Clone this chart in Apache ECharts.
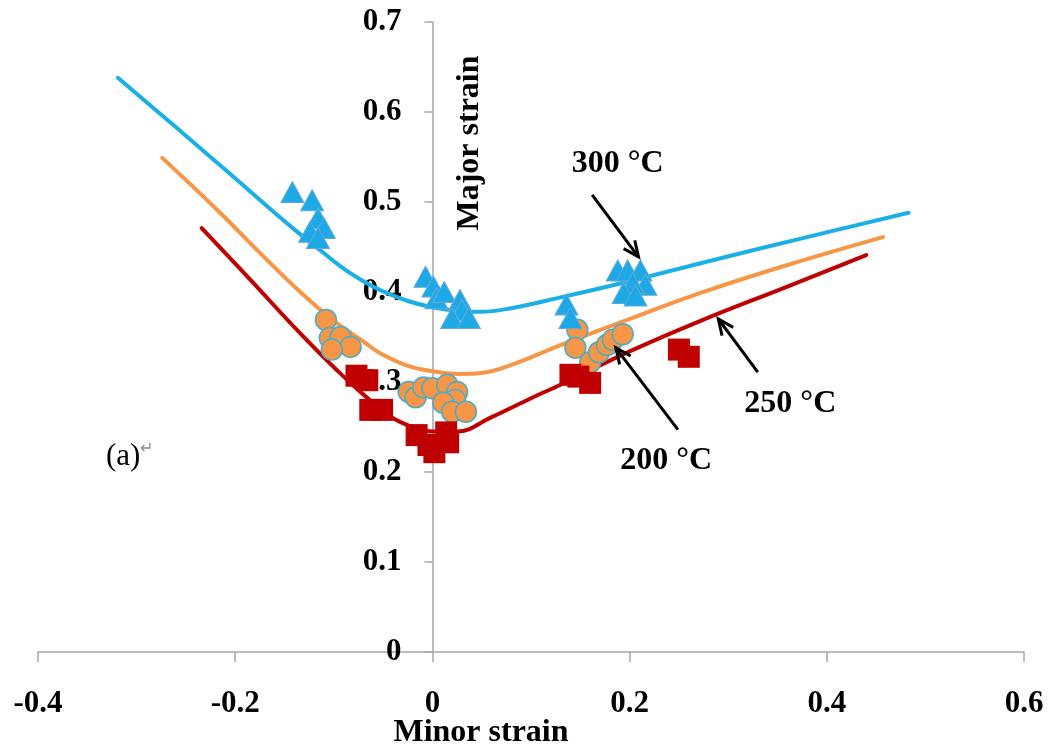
<!DOCTYPE html>
<html>
<head>
<meta charset="utf-8">
<script src="https://cdn.jsdelivr.net/npm/echarts@6/dist/echarts.min.js"></script>
<style>
  html, body { margin: 0; padding: 0; background: #fff; }
  #chart { width: 1057px; height: 751px; }
</style>
</head>
<body>
<div id="chart"></div>
<script>
// Forming limit curves (minor strain, major strain) at three temperatures
const curve300 = [[-0.319, 0.638], [-0.260, 0.583], [-0.205, 0.531], [-0.160, 0.488], [-0.134, 0.464],
                  [-0.110, 0.443], [-0.090, 0.426], [-0.070, 0.412], [-0.053, 0.402], [-0.025, 0.390],
                  [0.000, 0.383], [0.025, 0.379], [0.049, 0.378], [0.080, 0.382], [0.130, 0.394],
                  [0.200, 0.412], [0.272, 0.432], [0.380, 0.461], [0.483, 0.488]];
const curve200 = [[-0.274, 0.549], [-0.220, 0.493], [-0.168, 0.436], [-0.134, 0.400], [-0.100, 0.368],
                  [-0.070, 0.345], [-0.053, 0.332], [-0.025, 0.318], [0.000, 0.312], [0.025, 0.309],
                  [0.049, 0.310], [0.080, 0.319], [0.130, 0.341], [0.200, 0.370], [0.272, 0.399],
                  [0.360, 0.430], [0.457, 0.461]];
const curve250 = [[-0.234, 0.471], [-0.185, 0.414], [-0.134, 0.354], [-0.090, 0.306], [-0.043, 0.262],
                  [-0.020, 0.250], [0.000, 0.245], [0.025, 0.245], [0.060, 0.261], [0.100, 0.282],
                  [0.130, 0.297], [0.200, 0.334], [0.272, 0.368], [0.360, 0.406], [0.440, 0.441]];

// Measured limit strains
const points300 = [[-0.142, 0.511], [-0.122, 0.502], [-0.116, 0.482], [-0.110, 0.471], [-0.124, 0.467], [-0.116, 0.460],
                   [-0.007, 0.417], [0.001, 0.406], [0.004, 0.393], [0.012, 0.400], [0.028, 0.391], [0.030, 0.380],
                   [0.020, 0.371], [0.037, 0.371],
                   [0.136, 0.386], [0.140, 0.371],
                   [0.188, 0.424], [0.198, 0.424], [0.211, 0.424], [0.216, 0.408], [0.203, 0.410], [0.194, 0.399], [0.206, 0.396]];
const points200 = [[-0.108, 0.369], [-0.104, 0.349], [-0.093, 0.350], [-0.083, 0.339], [-0.102, 0.336],
                   [-0.024, 0.289], [-0.017, 0.283], [-0.009, 0.294], [0.000, 0.293], [0.015, 0.297], [0.025, 0.289],
                   [0.023, 0.280], [0.011, 0.277], [0.020, 0.267], [0.034, 0.267],
                   [0.147, 0.358], [0.145, 0.338], [0.160, 0.322], [0.169, 0.333], [0.177, 0.341], [0.183, 0.347], [0.193, 0.353]];
const points250 = [[-0.077, 0.307], [-0.066, 0.302], [-0.063, 0.269], [-0.051, 0.269],
                   [-0.016, 0.241], [-0.004, 0.230], [0.002, 0.222], [0.014, 0.244], [0.016, 0.233],
                   [0.140, 0.308], [0.148, 0.306], [0.160, 0.299],
                   [0.250, 0.336], [0.260, 0.328]];

// Axis ranges
const xRange = [-0.4, 0.6, 0.2];
const yRange = [0, 0.7, 0.1];

// Temperature annotations: text, text anchor, arrow tail, arrow tip (data units)
const noteTexts = ['300 °C', '250 °C', '200 °C'];
const noteAnchors = [[0.188, 0.542], [0.363, 0.276], [0.237, 0.212]];
const arrowTails = [[0.162, 0.508], [0.330, 0.311], [0.249, 0.247]];
const arrowTips = [[0.209, 0.439], [0.290, 0.370], [0.186, 0.338]];
const panelTag = '(a)';
const panelTagAnchor = [-0.331, 0.217];

const SERIF = '"Liberation Serif", "Times New Roman", serif';
const AXIS_GRAY = '#A6A6A6';

const GRID = { left: 38, right: 33, top: 22, bottom: 99 };
const plotWidth = 1057 - GRID.left - GRID.right;
// shift the vertical axis inward so it crosses the horizontal one at x = 0
const yAxisShift = -plotWidth * (0 - xRange[0]) / (xRange[1] - xRange[0]);

const chart = echarts.init(document.getElementById('chart'), null, { renderer: 'canvas' });

const fmt = v => String(Number(v.toFixed(1)));

const arrowData = arrowTails.map((t, i) => [t[0], t[1], arrowTips[i][0], arrowTips[i][1]]);

const curveSeries = (name, data, color) => ({
  name, type: 'line', data, smooth: 0.4, showSymbol: false, z: 2,
  lineStyle: { color, width: 4, cap: 'round', join: 'round' }
});

chart.setOption({
  backgroundColor: '#ffffff',
  animation: false,
  grid: Object.assign({ containLabel: false, outerBoundsMode: 'none' }, GRID),
  xAxis: {
    type: 'value',
    min: xRange[0], max: xRange[1], interval: xRange[2],
    axisLine: { show: true, onZero: false, lineStyle: { color: AXIS_GRAY, width: 1.5 } },
    axisTick: { show: true, length: 10, lineStyle: { color: AXIS_GRAY, width: 1.5 } },
    splitLine: { show: false },
    axisLabel: { formatter: fmt, margin: 36, color: '#000', fontFamily: SERIF, fontWeight: 'bold', fontSize: 31 }
  },
  yAxis: {
    type: 'value',
    position: 'left',
    offset: yAxisShift,
    min: yRange[0], max: yRange[1], interval: yRange[2],
    axisLine: { show: true, onZero: false, lineStyle: { color: AXIS_GRAY, width: 1.5 } },
    axisTick: { show: true, length: 8, lineStyle: { color: AXIS_GRAY, width: 1.5 } },
    splitLine: { show: false },
    axisLabel: { formatter: fmt, margin: 31, color: '#000', fontFamily: SERIF, fontWeight: 'bold', fontSize: 31 }
  },
  graphic: [
    { type: 'text', x: 470, y: 143, rotation: Math.PI / 2,
      style: { text: 'Major strain', font: 'bold 32px ' + SERIF, fill: '#000', align: 'center', verticalAlign: 'middle' } },
    { type: 'text', x: 481, y: 733,
      style: { text: 'Minor strain', font: 'bold 32px ' + SERIF, fill: '#000', align: 'center', verticalAlign: 'middle' } }
  ],
  series: [
    curveSeries('300 line', curve300, '#1AAFE6'),
    curveSeries('200 line', curve200, '#F79646'),
    curveSeries('250 line', curve250, '#C00000'),
    { name: '200', type: 'scatter', data: points200, symbol: 'circle', symbolSize: 21, z: 3,
      itemStyle: { color: '#F79646', borderColor: '#4BACC6', borderWidth: 1.5, opacity: 1 } },
    { name: '250', type: 'scatter', data: points250, symbol: 'rect', symbolSize: 22, z: 4,
      itemStyle: { color: '#C00000', opacity: 1 } },
    { name: '300', type: 'scatter', data: points300, symbol: 'triangle', symbolSize: [23, 21], z: 5,
      itemStyle: { color: '#1CA9E6', borderColor: '#62A9DC', borderWidth: 1, opacity: 1 } },
    {
      name: 'arrows', type: 'custom', z: 6, data: arrowData,
      encode: { x: [0, 2], y: [1, 3] },
      renderItem: (params, api) => {
        const p1 = api.coord([api.value(0), api.value(1)]);
        const p2 = api.coord([api.value(2), api.value(3)]);
        const ang = Math.atan2(p2[1] - p1[1], p2[0] - p1[0]);
        const L = 17, spread = 0.42;
        const h1 = [p2[0] - L * Math.cos(ang - spread), p2[1] - L * Math.sin(ang - spread)];
        const h2 = [p2[0] - L * Math.cos(ang + spread), p2[1] - L * Math.sin(ang + spread)];
        return {
          type: 'group',
          children: [
            { type: 'line', shape: { x1: p1[0], y1: p1[1], x2: p2[0], y2: p2[1] },
              style: { stroke: '#000', lineWidth: 3 } },
            { type: 'polyline', shape: { points: [h1, p2, h2] },
              style: { stroke: '#000', lineWidth: 3, fill: null, lineJoin: 'miter' } }
          ]
        };
      }
    },
    {
      name: 'notes', type: 'custom', z: 7, data: noteAnchors,
      renderItem: (params, api) => {
        const p = api.coord([api.value(0), api.value(1)]);
        return { type: 'text', x: p[0], y: p[1],
          style: { text: noteTexts[params.dataIndex], font: 'bold 32px ' + SERIF, fill: '#000',
                   align: 'center', verticalAlign: 'middle' } };
      }
    },
    {
      name: 'tag', type: 'custom', z: 7, data: [panelTagAnchor],
      renderItem: (params, api) => {
        const p = api.coord([api.value(0), api.value(1)]);
        return { type: 'text', x: p[0], y: p[1],
          style: { text: '{a|' + panelTag + '}{r|↵}', align: 'left', verticalAlign: 'middle',
                   rich: { a: { font: '31px ' + SERIF, fill: '#000', color: '#000' },
                           r: { font: '16px ' + SERIF, fill: '#8C8C8C', color: '#8C8C8C', verticalAlign: 'top', padding: [0, 0, 10, 0] } } } };
      }
    }
  ]
});
</script>
</body>
</html>
